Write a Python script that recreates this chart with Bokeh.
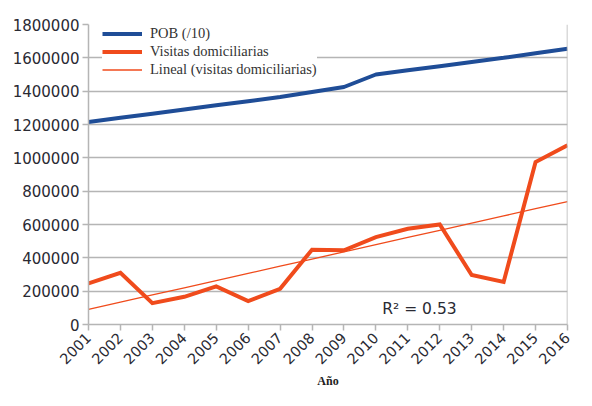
import numpy as np
from bokeh.plotting import figure
from bokeh.models import (Range1d, FixedTicker, Legend, LegendItem, Label, Span,
                          NumeralTickFormatter)
from bokeh.embed import file_html
from bokeh.resources import INLINE
import math

years = [2001, 2002, 2003, 2004, 2005, 2006, 2007, 2008, 2009, 2010, 2011, 2012, 2013, 2014, 2015, 2016]
pob_div10 = [1215000, 1240000, 1265000, 1290000, 1315000, 1340000, 1365000, 1395000, 1425000,
             1500000, 1525000, 1550000, 1575000, 1600000, 1628000, 1655000]
visitas = [247000, 310000, 128000, 166000, 229000, 141000, 214000, 449000, 445000,
           524000, 574000, 600000, 297000, 255000, 975000, 1075000]
y_ticks = [0, 200000, 400000, 600000, 800000, 1000000, 1200000, 1400000, 1600000, 1800000]
r2_text = "R² = 0.53"

# linear trend (least squares) of visitas
coef = np.polyfit(years, visitas, 1)
trend = [coef[0] * x + coef[1] for x in years]

BLUE = "#1f4d97"
RED = "#f04b1c"
GRID = "#b5b5b5"
TXT = "#2a2a33"

p = figure(width=576, height=390, output_backend="svg", toolbar_location=None,
           x_range=Range1d(2001, 2016), y_range=Range1d(0, 1800000),
           min_border_left=88, min_border_right=9, min_border_top=24, min_border_bottom=40)
p.outline_line_color = None
p.background_fill_color = "white"

p.xgrid.grid_line_color = None
p.ygrid.grid_line_color = GRID
p.ygrid.grid_line_width = 1.5
p.ygrid.ticker = FixedTicker(ticks=y_ticks)

p.yaxis.ticker = FixedTicker(ticks=y_ticks)
p.yaxis.formatter = NumeralTickFormatter(format="0")
p.xaxis.ticker = FixedTicker(ticks=years)
p.xaxis.major_label_orientation = math.pi / 4

for ax in (p.xaxis[0], p.yaxis[0]):
    ax.axis_line_color = GRID
    ax.axis_line_width = 1.5
    ax.major_tick_line_color = GRID
    ax.major_tick_line_width = 1.5
    ax.major_tick_out = 6
    ax.major_tick_in = 0
    ax.minor_tick_line_color = None
    ax.major_label_text_font = "DejaVu Sans"
    ax.major_label_text_color = TXT
p.yaxis.major_label_text_font_size = "15px"
p.xaxis.major_label_text_font_size = "14.5px"
p.yaxis.major_label_standoff = 3
p.xaxis.major_label_standoff = 5
p.xaxis.axis_label = "Año"
p.xaxis.axis_label_text_font = "Liberation Serif"
p.xaxis.axis_label_text_font_style = "bold"
p.xaxis.axis_label_text_font_size = "12px"
p.xaxis.axis_label_text_color = "#222222"
p.xaxis.axis_label_standoff = 2

# right border
p.add_layout(Span(location=2016, dimension="height", line_color=GRID, line_width=1.5))

r_pob = p.line(years, pob_div10, line_color=BLUE, line_width=4)
r_vis = p.line(years, visitas, line_color=RED, line_width=4, line_join="miter")
r_trend = p.line(years, trend, line_color=RED, line_width=1.3)

lab = Label(x=2010.2, y=95000, text=r2_text, text_font="DejaVu Sans", text_font_size="15.5px",
            text_color=TXT, text_baseline="middle")
p.add_layout(lab)

legend = Legend(items=[LegendItem(label="POB (/10)", renderers=[r_pob]),
                       LegendItem(label="Visitas domiciliarias", renderers=[r_vis]),
                       LegendItem(label="Lineal (visitas domiciliarias)", renderers=[r_trend])],
                location=(14, 246), orientation="vertical",
                border_line_color=None, background_fill_color="white", background_fill_alpha=1.0,
                label_text_font="Liberation Serif", label_text_font_size="14.5px",
                label_text_color="#333333", glyph_width=40, glyph_height=17, label_height=17,
                label_standoff=8, spacing=1, padding=4, margin=0)
p.add_layout(legend)

open("out.html", "w").write(file_html(p, INLINE))
